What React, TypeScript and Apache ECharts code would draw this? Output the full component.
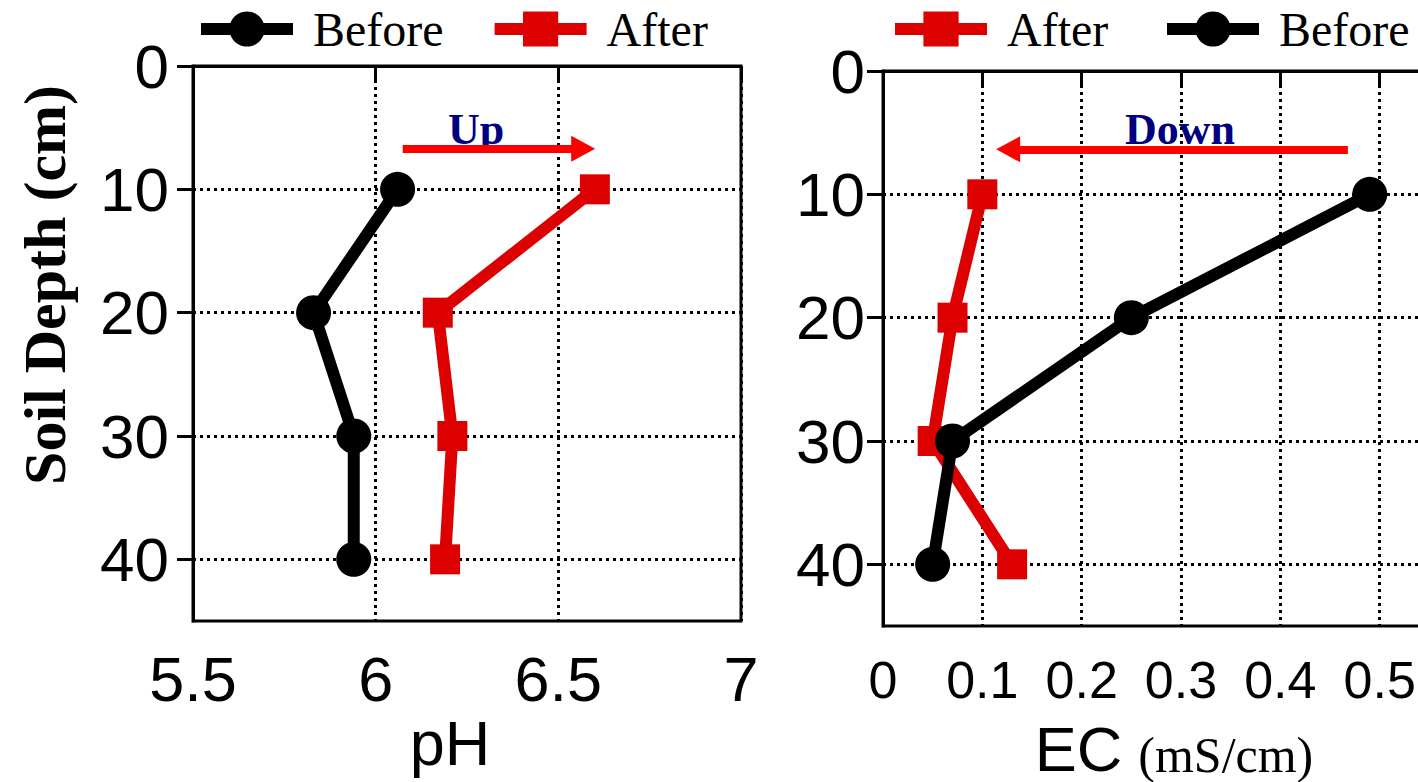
import React, { useEffect, useRef } from "react";
import * as echarts from "echarts";

const depths = [10, 20, 30, 40];
const depthTicks = [0, 10, 20, 30, 40];
const phBefore = [6.06, 5.83, 5.94, 5.94];
const phAfter = [6.6, 6.17, 6.21, 6.19];
const ecBefore = [0.49, 0.25, 0.07, 0.05];
const ecAfter = [0.1, 0.07, 0.05, 0.13];
const upArrowX = [6.074, 6.568];
const upArrowDepth = 6.7;
const downArrowX = [0.468, 0.126];
const downArrowDepth = 6.35;

const BLACK = "#000000";
const RED = "#dc0000";
const SANS = "Liberation Sans";
const SERIF = "Liberation Serif";

const dotted = { show: true, lineStyle: { color: BLACK, width: 3, type: [3, 4] } };

function yAxis(gridIndex: number, margin: number) {
  return {
    gridIndex,
    type: "value",
    inverse: true,
    min: 0,
    max: 45,
    interval: 10,
    axisLine: { show: true, lineStyle: { color: BLACK, width: 3 } },
    axisTick: { show: true, length: 16, lineStyle: { color: BLACK, width: 3 }, customValues: depthTicks },
    axisLabel: { fontSize: 62, fontFamily: SANS, color: BLACK, margin, customValues: depthTicks },
    splitLine: dotted,
  };
}

function pairs(xs: number[]) {
  return xs.map((v, i) => [v, depths[i]]);
}

function arrow(x: number[], d: number) {
  return {
    silent: true,
    symbol: ["none", "triangle"],
    symbolSize: [26, 24],
    label: { show: false },
    emphasis: { disabled: true },
    lineStyle: { color: "#ff0000", width: 8, type: "solid", opacity: 1 },
    data: [[{ coord: [x[0], d] }, { coord: [x[1], d] }]],
  };
}

const legendBase = {
  itemWidth: 92,
  itemHeight: 44,
  itemGap: 45,
  top: 5,
  padding: 0,
  lineStyle: { width: 12 },
  textStyle: { fontFamily: SERIF, fontSize: 48, color: BLACK, padding: [0, 0, 0, 15] },
};

export default function App() {
  const ref = useRef<HTMLDivElement>(null);
  useEffect(() => {
    if (!ref.current) return;
    const chart = echarts.init(ref.current, undefined, { renderer: "svg" });
    const option: any = {
      animation: false,
      backgroundColor: "#ffffff",
      grid: [
        { left: 193, top: 66, width: 548, height: 555, show: true, borderColor: BLACK, borderWidth: 3, backgroundColor: "transparent", outerBoundsMode: "none" },
        { left: 883, top: 71, width: 596, height: 555, show: true, borderColor: BLACK, borderWidth: 3, backgroundColor: "transparent", outerBoundsMode: "none" },
      ],
      xAxis: [
        {
          gridIndex: 0,
          type: "value",
          position: "bottom",
          min: 5.5,
          max: 7,
          interval: 0.5,
          axisLine: { show: true, lineStyle: { color: BLACK, width: 3 } },
          axisTick: { show: true, length: 15, lineStyle: { color: BLACK, width: 3 } },
          axisLabel: { fontSize: 63, fontFamily: SANS, color: BLACK, margin: 26 },
          splitLine: dotted,
          name: "pH",
          nameLocation: "middle",
          nameGap: 90,
          nameMoveOverlap: false,
          nameTextStyle: { fontSize: 63, fontFamily: SANS, color: BLACK, padding: [0, 34, 0, 0] },
        },
        {
          gridIndex: 1,
          type: "value",
          position: "bottom",
          min: 0,
          max: 0.6,
          interval: 0.1,
          axisLine: { show: true, lineStyle: { color: BLACK, width: 3 } },
          axisTick: { show: true, length: 15, lineStyle: { color: BLACK, width: 3 } },
          axisLabel: { fontSize: 52, fontFamily: SANS, color: BLACK, margin: 28, showMaxLabel: false },
          splitLine: dotted,
          name: "{a|EC}{s| }{b|(mS/cm)}",
          nameLocation: "middle",
          nameGap: 98,
          nameMoveOverlap: false,
          nameTextStyle: {
            padding: [0, 14, 0, 0],
            lineHeight: 56,
            rich: {
              a: { fontSize: 63, fontFamily: SANS, color: BLACK, lineHeight: 56, verticalAlign: "bottom" },
              s: { fontSize: 30, width: 16, lineHeight: 56 },
              b: { fontSize: 50, fontFamily: SERIF, color: BLACK, lineHeight: 56, verticalAlign: "bottom" },
            },
          },
        },
      ],
      yAxis: [yAxis(0, 24), yAxis(1, 18)],
      legend: [
        { ...legendBase, left: 195, data: ["Before", "After"] },
        { ...legendBase, left: 889, data: ["After"] },
        { ...legendBase, left: 1161, data: ["Before"] },
      ],
      series: [
        {
          name: "Before",
          type: "line",
          xAxisIndex: 0,
          yAxisIndex: 0,
          data: pairs(phBefore),
          symbol: "circle",
          symbolSize: 35,
          lineStyle: { color: BLACK, width: 12 },
          itemStyle: { color: BLACK },
          clip: false,
          z: 3,
        },
        {
          name: "After",
          type: "line",
          xAxisIndex: 0,
          yAxisIndex: 0,
          data: pairs(phAfter),
          symbol: "rect",
          symbolSize: 30,
          lineStyle: { color: RED, width: 12 },
          itemStyle: { color: RED },
          clip: false,
          z: 3,
          markLine: arrow(upArrowX, upArrowDepth),
        },
        {
          name: "After",
          type: "line",
          xAxisIndex: 1,
          yAxisIndex: 1,
          data: pairs(ecAfter),
          symbol: "rect",
          symbolSize: 30,
          lineStyle: { color: RED, width: 12 },
          itemStyle: { color: RED },
          clip: false,
          z: 3,
          markLine: arrow(downArrowX, downArrowDepth),
        },
        {
          name: "Before",
          type: "line",
          xAxisIndex: 1,
          yAxisIndex: 1,
          data: pairs(ecBefore),
          symbol: "circle",
          symbolSize: 35,
          lineStyle: { color: BLACK, width: 12 },
          itemStyle: { color: BLACK },
          clip: false,
          z: 4,
        },
      ],
      graphic: [
        {
          type: "text",
          x: 45,
          y: 285,
          rotation: Math.PI / 2,
          style: { text: "Soil Depth (cm)", fontFamily: SERIF, fontWeight: "bold", fontSize: 60, fill: BLACK, align: "center", verticalAlign: "middle" },
        },
        {
          type: "text",
          x: 476,
          y: 129,
          style: { text: "Up", fontFamily: SERIF, fontWeight: "bold", fontSize: 44, fill: "#000080", align: "center", verticalAlign: "middle" },
        },
        {
          type: "text",
          x: 1180,
          y: 129,
          style: { text: "Down", fontFamily: SERIF, fontWeight: "bold", fontSize: 44, fill: "#000080", align: "center", verticalAlign: "middle" },
        },
      ],
    };
    chart.setOption(option);
    return () => chart.dispose();
  }, []);
  return <div ref={ref} style={{ position: "fixed", left: 0, top: 0, width: 1418, height: 782, background: "#fff" }} />;
}
